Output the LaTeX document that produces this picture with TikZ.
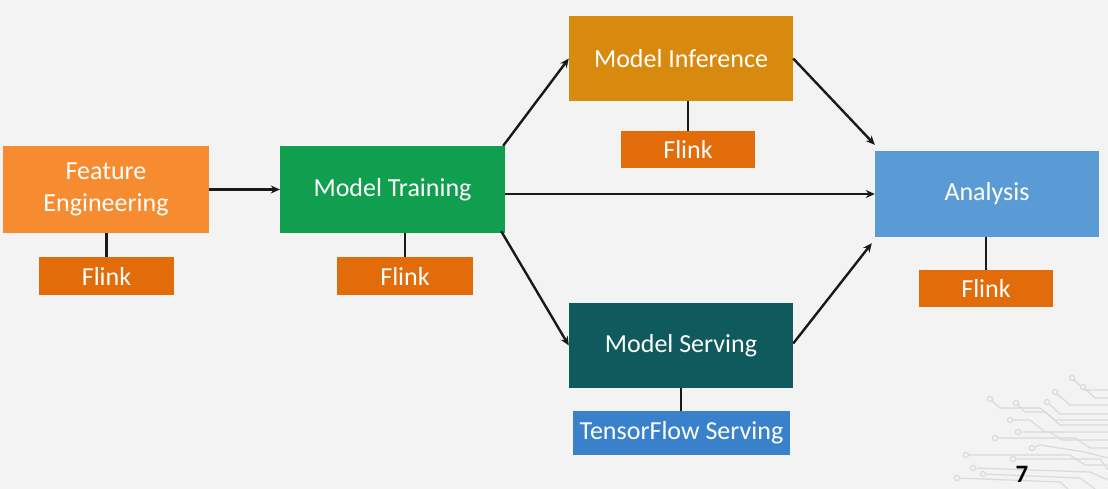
\documentclass[tikz,border=0pt]{standalone}
\usepackage{fontspec}
\setmainfont{Carlito}
\usetikzlibrary{arrows.meta}
\definecolor{bg}{HTML}{F3F3F3}
\definecolor{feorange}{HTML}{F68B30}
\definecolor{flinkorange}{HTML}{E26B0A}
\definecolor{mtgreen}{HTML}{0F9F4F}
\definecolor{migold}{HTML}{D78A0E}
\definecolor{msteal}{HTML}{0F5A5C}
\definecolor{tfblue}{HTML}{3982CB}
\definecolor{anblue}{HTML}{5B9BD5}
\definecolor{circ}{HTML}{DADADA}
\tikzset{
  box/.style={draw=none, text=white, align=center, font=\fontsize{26}{32}\selectfont, inner sep=0pt},
  tag/.style={box, fill=flinkorange, minimum width=135pt, minimum height=38pt},
  link/.style={line width=2.6pt, black!90},
  flow/.style={line width=2.4pt, black!90, -{Stealth[length=9pt,width=8pt]}},
  wire/.style={circ, line width=1.2pt},
  pin/.style={circ, line width=1.1pt, fill=bg}
}
\begin{document}
\begin{tikzpicture}[x=1pt,y=-1pt]
\fill[bg] (0,0) rectangle (1108,489);
\useasboundingbox (0,0) rectangle (1108,489);
% circuit decoration
\draw[wire] (1072,378) -- (1085,390) -- (1108,390);
\draw[wire] (1083,387) -- (1095,398) -- (1108,398);
\draw[wire] (1055,392) -- (1070,405) -- (1108,405);
\draw[wire] (990,399) -- (1000,408) -- (1040,408) -- (1055,420) -- (1108,420);
\draw[wire] (1016,403) -- (1025,412) -- (1045,412) -- (1060,425) -- (1108,425);
\draw[wire] (1047,402) -- (1060,414) -- (1108,414);
\draw[wire] (1010,420) -- (1030,420) -- (1045,432) -- (1108,432);
\draw[wire] (1018,432) -- (1050,432) -- (1062,440) -- (1108,440);
\draw[wire] (995,438) -- (1075,438) -- (1090,448) -- (1108,448);
\draw[wire] (1032,448) -- (1040,445) -- (1085,452) -- (1108,458);
\draw[wire] (966,455) -- (1070,455) -- (1085,465) -- (1108,465);
\draw[wire] (1013,459) -- (1100,459) -- (1108,470);
\draw[wire] (973,468) -- (1090,472) -- (1108,480);
\draw[wire] (983,474) -- (1080,478) -- (1095,489);
\draw[wire] (957,478) -- (1060,482) -- (1068,489);
\foreach \p in {(1072,378),(1083,387),(1055,392),(990,399),(1016,403),(1047,402),(1010,420),(1018,432),(995,438),(1032,448),(966,455),(1013,459),(973,468),(983,474),(957,478)}
  \draw[pin] \p circle (2.6pt);
% nodes
\node[box, fill=feorange, minimum width=206pt, minimum height=87pt] (fe) at (106,189.5) {\raisebox{-4pt}{Feature}\\\raisebox{-4pt}{Engineering}};
\node[tag] (fl1) at (106.5,276) {Flink};
\node[box, fill=mtgreen, minimum width=225pt, minimum height=87pt] (mt) at (392.5,189.5) {\raisebox{-3pt}{Model Training}};
\node[tag, minimum width=136pt] (fl2) at (405,276) {Flink};
\node[box, fill=migold, minimum width=224pt, minimum height=85pt] (mi) at (681,58.5) {\raisebox{-2pt}{Model Inference}};
\node[tag, minimum width=134pt, minimum height=37pt] (fl3) at (688,149.5) {Flink};
\node[box, fill=msteal, minimum width=224pt, minimum height=85pt] (ms) at (681,345.5) {\raisebox{-2pt}{Model Serving}};
\node[box, fill=tfblue, minimum width=217pt, minimum height=44pt] (tfs) at (681.5,433) {TensorFlow Serving};
\node[box, fill=anblue, minimum width=224pt, minimum height=86pt] (an) at (987,194) {\raisebox{-2pt}{Analysis}};
\node[tag, minimum width=134pt, minimum height=37pt] (fl4) at (986,288.5) {Flink};
\node[font=\bfseries\fontsize{25}{26}\selectfont, text=black] (pg) at (1022,474) {7};
% tool links
\draw[link] (fl1.north) -- (fl1.north |- fe.south);
\draw[link] (fl2.north) -- (fl2.north |- mt.south);
\draw[link] (fl3.north) -- (fl3.north |- mi.south);
\draw[link] (tfs.north -| ms.south) -- (ms.south);
\draw[link] (fl4.north) -- (fl4.north |- an.south);
% flow
\draw[flow] (fe.east) -- (mt.west);
\draw[flow] ([xshift=-2pt]mt.north east) -- (mi.west);
\draw[flow] (mt.east |- an.west) -- (an.west);
\draw[flow] ([xshift=-4pt,yshift=2pt]mt.south east) -- (ms.west);
\draw[flow] (mi.east) -- ([yshift=6pt]an.north west);
\draw[flow] ([yshift=2pt]ms.east) -- ([xshift=-3pt,yshift=-6pt]an.south west);
\end{tikzpicture}
\end{document}
